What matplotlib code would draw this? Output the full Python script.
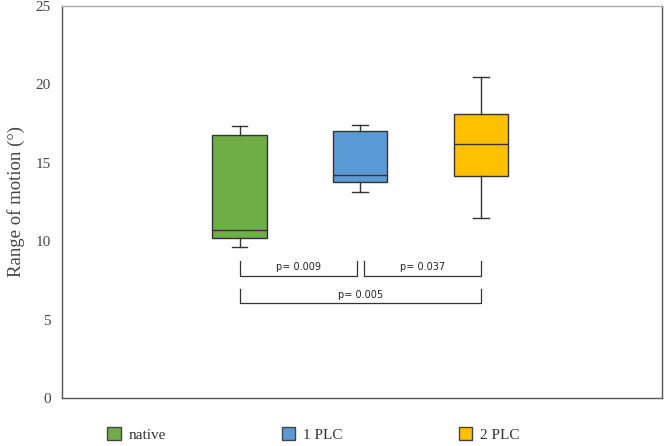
import matplotlib.pyplot as plt
from matplotlib.patches import Patch

# box statistics
groups = ['native', '1 PLC', '2 PLC']
whis_lo = [9.6, 13.15, 11.45]
q1 = [10.2, 13.8, 14.15]
medians = [10.7, 14.2, 16.2]
q3 = [16.8, 17.05, 18.1]
whis_hi = [17.35, 17.4, 20.45]
colors = ['#70AD47', '#5B9BD5', '#FFC000']

# significance brackets: (from group, to group, label)
pairs = [(0, 1, 'p= 0.009'), (1, 2, 'p= 0.037'), (0, 2, 'p= 0.005')]

plt.rcParams['font.family'] = ['Liberation Serif']

fig = plt.figure(figsize=(6.65, 4.46), dpi=100)
ax = fig.add_axes([0.0932, 0.1076, 0.9023, 0.879])

stats = []
for i, g in enumerate(groups):
    stats.append({'label': g, 'whislo': whis_lo[i], 'q1': q1[i], 'med': medians[i],
                  'q3': q3[i], 'whishi': whis_hi[i], 'fliers': []})

pos = [1, 2, 3]
edge = '#333333'
bp = ax.bxp(stats, positions=pos, widths=0.45, capwidths=0.13, patch_artist=True,
            showfliers=False,
            boxprops=dict(edgecolor=edge, linewidth=1.0),
            medianprops=dict(color=edge, linewidth=1.0),
            whiskerprops=dict(color=edge, linewidth=1.0),
            capprops=dict(color=edge, linewidth=1.0))
for patch, c in zip(bp['boxes'], colors):
    patch.set_facecolor(c)

# brackets
bracket_font = dict(family='DejaVu Sans', fontsize=7, color='#222222')
gap = 0.03
for a, b, lab in pairs:
    if b - a == 1:
        y_top, y_bot = 8.75, 7.75
        xa = pos[a] + (gap if a > 0 else 0)
        xb = pos[b] - (gap if b < 2 else 0)
        ty = 8.35
    else:
        y_top, y_bot = 6.95, 6.05
        xa, xb = pos[a], pos[b]
        ty = 6.55
    ax.plot([xa, xa, xb, xb], [y_top, y_bot, y_bot, y_top], color='#333333', lw=0.9)
    ax.text((xa + xb) / 2, ty, lab, ha='center', va='center', **bracket_font)

ax.set_xlim(-0.472, 4.502)
ax.set_ylim(0, 25)
ax.set_yticks([0, 5, 10, 15, 20, 25])
ax.set_xticks([])
ax.tick_params(axis='y', length=0, labelsize=11, colors='#444444', pad=8)
ax.set_ylabel('Range of motion (°)', fontsize=13.5, color='#444444', labelpad=8)
for s in ax.spines.values():
    s.set_color('#555555')
    s.set_linewidth(1.0)
ax.spines['top'].set_color('#aaaaaa')

handles = [Patch(facecolor=c, edgecolor='#444444', label=g) for c, g in zip(colors, groups)]
fig.legend(handles=handles, loc='lower left', bbox_to_anchor=(0.14, -0.021), ncol=3,
           frameon=False, fontsize=11, handlelength=0.9, handleheight=0.9,
           handletextpad=0.5, columnspacing=7.6, labelcolor='#333333')

fig.savefig('out.png', dpi=100)
